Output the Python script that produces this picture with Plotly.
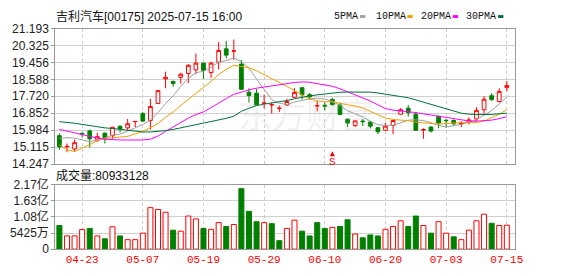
import plotly.graph_objects as go

# ---------------- data ----------------
dates = ["04-16", "04-17", "04-22", "04-23", "04-24", "04-25", "04-28", "04-29", "04-30", "05-02",
         "05-06", "05-07", "05-08", "05-09", "05-12", "05-13", "05-14", "05-15", "05-16", "05-19",
         "05-20", "05-21", "05-22", "05-23", "05-26", "05-27", "05-28", "05-29", "05-30", "06-02",
         "06-03", "06-04", "06-05", "06-06", "06-09", "06-10", "06-11", "06-12", "06-13", "06-16",
         "06-17", "06-18", "06-19", "06-20", "06-23", "06-24", "06-25", "06-26", "06-27", "06-30",
         "07-02", "07-03", "07-04", "07-07", "07-08", "07-09", "07-10", "07-11", "07-14", "07-15"]

opens = [15.70, 15.13, 15.02, 15.82, 15.94, 15.49, 15.83, 15.70, 16.18, 16.10,
         16.42, 16.83, 16.48, 17.35, 18.61, 18.48, 18.69, 18.89, 19.07, 19.42,
         18.94, 19.47, 20.15, 20.03, 19.37, 17.93, 17.88, 17.36, 17.28, 17.10,
         17.27, 17.67, 18.16, 17.80, 17.23, 17.26, 17.56, 17.27, 16.54, 16.22,
         16.45, 16.40, 16.11, 15.98, 16.22, 16.80, 17.11, 16.80, 15.99, 16.14,
         16.70, 16.49, 16.48, 16.31, 16.38, 16.56, 17.03, 17.75, 17.45, 18.16]
highs = [15.82, 15.30, 15.51, 15.86, 16.02, 15.86, 15.86, 16.16, 16.24, 16.56,
         16.43, 16.92, 17.59, 18.05, 18.98, 18.53, 18.93, 19.37, 19.91, 19.42,
         19.50, 20.50, 20.55, 20.63, 19.58, 18.13, 18.10, 17.80, 17.40, 17.24,
         17.59, 18.13, 18.16, 17.88, 17.48, 17.40, 17.64, 17.40, 16.59, 16.51,
         16.56, 16.46, 16.14, 16.35, 16.51, 17.11, 17.27, 16.92, 16.08, 16.19,
         16.70, 16.54, 16.54, 16.43, 16.64, 17.16, 17.72, 17.88, 18.13, 18.50]
lows = [14.98, 14.85, 14.89, 15.62, 15.10, 15.38, 15.30, 15.54, 15.86, 15.94,
        16.14, 16.40, 16.02, 17.32, 18.13, 18.21, 18.37, 18.40, 18.85, 18.61,
        18.66, 19.10, 19.66, 19.58, 18.05, 17.40, 17.24, 17.11, 16.83, 16.92,
        17.24, 17.64, 17.56, 17.53, 16.95, 16.99, 17.24, 16.75, 16.14, 16.14,
        16.19, 16.07, 15.78, 15.94, 15.78, 16.78, 16.67, 15.94, 15.54, 15.86,
        16.08, 16.11, 16.19, 16.14, 16.27, 16.43, 16.83, 17.48, 17.40, 17.99]
closes = [15.13, 15.15, 15.34, 15.79, 15.54, 15.65, 15.54, 16.13, 16.05, 16.31,
          16.43, 16.45, 17.19, 18.01, 18.69, 18.37, 18.85, 19.31, 19.42, 19.05,
          19.42, 20.07, 19.83, 20.05, 18.08, 17.76, 17.27, 17.37, 17.29, 17.11,
          17.45, 17.92, 17.80, 17.69, 17.24, 17.22, 17.29, 16.79, 16.35, 16.46,
          16.42, 16.19, 15.90, 16.19, 16.48, 17.03, 16.88, 15.98, 16.01, 15.94,
          16.35, 16.47, 16.31, 16.33, 16.51, 17.00, 17.57, 17.55, 17.97, 18.27]
# volume in 亿股
volume_yi = [0.798, 0.447, 0.447, 0.660, 0.700, 0.447, 0.350, 0.755, 0.447, 0.320,
             0.320, 0.540, 1.400, 1.340, 1.245, 0.640, 0.606, 1.117, 1.020, 0.700,
             0.670, 0.894, 0.766, 0.830, 2.040, 1.276, 0.925, 0.894, 0.860, 0.287,
             0.700, 0.979, 0.606, 0.447, 0.894, 0.700, 0.734, 0.766, 0.990, 0.510,
             0.383, 0.479, 0.447, 0.670, 0.766, 0.957, 0.766, 1.117, 0.798, 0.540,
             0.925, 0.540, 0.415, 0.320, 0.640, 0.957, 1.180, 0.872, 0.798, 0.80933128]

# moving-average values before enough closes are available
ma5_head = [15.57, 15.60, 15.58, 15.50]
ma10_head = [15.24, 14.97, 14.89, 15.05, 15.24, 15.45, 15.55, 15.60, 15.64]
ma20_head = [16.02, 15.95, 15.85, 15.75, 15.66, 15.58, 15.52, 15.49, 15.48, 15.48,
             15.48, 15.48, 15.52, 15.68, 15.92, 16.15, 16.40, 16.60, 16.78]
ma30_head = [16.42, 16.39, 16.34, 16.28, 16.22, 16.15, 16.10, 16.07, 16.02, 15.96,
             15.91, 15.89, 15.89, 15.91, 15.96, 16.02, 16.10, 16.19, 16.28, 16.37,
             16.45, 16.53, 16.59, 16.70, 16.95, 17.11, 17.24, 17.32, 17.37]

price_ticks = [14.247, 15.115, 15.984, 16.852, 17.720, 18.588, 19.456, 20.325, 21.193]
price_labels = ["14.247", "15.115", "15.984", "16.852", "17.720", "18.588", "19.456", "20.325", "21.193"]
vol_ticks = [0, 0.5425e8, 1.085e8, 1.6275e8, 2.17e8]
vol_labels = ["0", "5425万", "1.08亿", "1.63亿", "2.17亿"]
date_ticks = ["04-23", "05-07", "05-19", "05-29", "06-10", "06-20", "07-03", "07-15"]

title_text = "吉利汽车[00175] 2025-07-15 16:00"
vol_title = "成交量:80933128"
ma_names = ["5PMA", "10PMA", "20PMA", "30PMA"]
signal_date = "06-11"

# ---------------- styles ----------------
RED = "#ff0000"
GREEN = "#008000"
MA_COLORS = ["#a0a0a0", "#f0a000", "#ff00ff", "#00703a"]
W, H = 578, 276


def moving_average(head, n):
    out = list(head)
    for i in range(len(head), len(closes)):
        out.append(sum(closes[i - n + 1:i + 1]) / n)
    return out


ma_series = [moving_average(ma5_head, 5), moving_average(ma10_head, 10),
             moving_average(ma20_head, 20), moving_average(ma30_head, 30)]

volumes = [v * 1e8 for v in volume_yi]
vol_up = []
for i, c in enumerate(closes):
    prev = closes[i - 1] if i > 0 else opens[0]
    vol_up.append(c >= prev)

fig = go.Figure()

fig.add_trace(go.Candlestick(
    x=dates, open=opens, high=highs, low=lows, close=closes,
    increasing=dict(line=dict(color=RED, width=1), fillcolor="white"),
    decreasing=dict(line=dict(color=GREEN, width=1), fillcolor=GREEN),
    whiskerwidth=0, xaxis="x", yaxis="y", showlegend=False, hoverinfo="skip"))

for name, ma, col in zip(ma_names, ma_series, MA_COLORS):
    fig.add_trace(go.Scatter(x=dates, y=ma, mode="lines", name=name,
                             line=dict(color=col, width=1), xaxis="x", yaxis="y",
                             showlegend=False, hoverinfo="skip"))

fig.add_trace(go.Bar(
    x=dates, y=volumes, width=0.66,
    marker=dict(color=["white" if u else GREEN for u in vol_up],
                line=dict(color=[RED if u else GREEN for u in vol_up], width=1)),
    xaxis="x2", yaxis="y2", showlegend=False, hoverinfo="skip"))

x_dom = [56 / W, 522 / W]
x_range = [-0.55, 60.05]
axis_common = dict(showline=True, linecolor="#999999", linewidth=1, mirror=True, zeroline=False)
tickfont = dict(family="Liberation Sans, Noto Sans CJK SC", size=12, color="#222222")

fig.update_layout(
    width=W, height=H, autosize=False,
    margin=dict(l=0, r=0, t=0, b=0),
    paper_bgcolor="white", plot_bgcolor="white",
    boxgap=0.3,
    xaxis=dict(domain=x_dom, anchor="y", type="category", range=x_range,
               categoryorder="array", categoryarray=dates,
               tickvals=date_ticks, showticklabels=False, ticks="",
               showgrid=True, gridcolor="#cccccc", griddash="3px,3px", gridwidth=1,
               rangeslider=dict(visible=False), **axis_common),
    yaxis=dict(domain=[(H - 165) / H, (H - 21.7) / H], anchor="x", range=[14.247, 21.193],
               tickvals=price_ticks, ticktext=price_labels, ticks="outside", ticklen=3,
               tickcolor="#999999", tickfont=tickfont,
               showgrid=True, gridcolor="#d0d0d0", gridwidth=1, **axis_common),
    xaxis2=dict(domain=x_dom, anchor="y2", type="category", range=x_range,
                categoryorder="array", categoryarray=dates,
                tickvals=date_ticks, ticktext=date_ticks, ticks="",
                tickfont=dict(family="Liberation Mono", size=11, color=RED),
                showgrid=True, gridcolor="#cccccc", griddash="3px,3px", gridwidth=1,
                **axis_common),
    yaxis2=dict(domain=[21 / H, 89 / H], anchor="x2", range=[0, 2.17e8],
                tickvals=vol_ticks, ticktext=vol_labels, ticks="outside", ticklen=3,
                tickcolor="#999999", tickfont=tickfont,
                showgrid=True, gridcolor="#d0d0d0", gridwidth=1, **axis_common),
)

annotations = []
shapes = []


def px_x(px):
    return px / W


def px_y(py):
    return 1 - py / H


# watermark
annotations.append(dict(text="东方财富", x=px_x(310), y=px_y(84), xref="paper", yref="paper",
                        showarrow=False, font=dict(family="Noto Sans CJK SC", size=34,
                                                   color="rgba(170,170,170,0.18)")))
# title
annotations.append(dict(text=title_text, x=px_x(55), y=px_y(9), xref="paper", yref="paper",
                        xanchor="left", yanchor="middle", showarrow=False,
                        font=dict(family="Liberation Sans, Noto Sans CJK SC", size=12, color="#111111")))
# volume title
annotations.append(dict(text=vol_title, x=px_x(55), y=px_y(177.5), xref="paper", yref="paper",
                        xanchor="left", yanchor="middle", showarrow=False,
                        font=dict(family="Liberation Sans, Noto Sans CJK SC", size=12, color="#111111")))

# legend
leg_text_x = [338, 380, 426, 472]
leg_rect_x = [365, 413, 459, 505]
for name, col, tx, rx in zip(ma_names, MA_COLORS, leg_text_x, leg_rect_x):
    annotations.append(dict(text=name, x=px_x(tx - 1), y=px_y(9), xref="paper", yref="paper",
                            xanchor="left", yanchor="middle", showarrow=False,
                            font=dict(family="Liberation Mono", size=10, color="#111111")))
    shapes.append(dict(type="rect", xref="paper", yref="paper",
                       x0=px_x(rx), x1=px_x(rx + 5.5), y0=px_y(10.5), y1=px_y(7.5),
                       fillcolor=col, line=dict(width=0)))

# "S" signal marker: small up-arrow above an S
annotations.append(dict(text="S", x=signal_date, y=px_y(151.5), xref="x", yref="paper",
                        showarrow=True, ax=0, ay=4, xanchor="center", yanchor="top",
                        arrowhead=2, arrowsize=1, arrowwidth=1, arrowcolor=RED, standoff=0,
                        borderpad=0,
                        font=dict(family="Liberation Mono", size=11, color=RED)))

fig.update_layout(annotations=annotations, shapes=shapes)

fig.write_html("out.html")
